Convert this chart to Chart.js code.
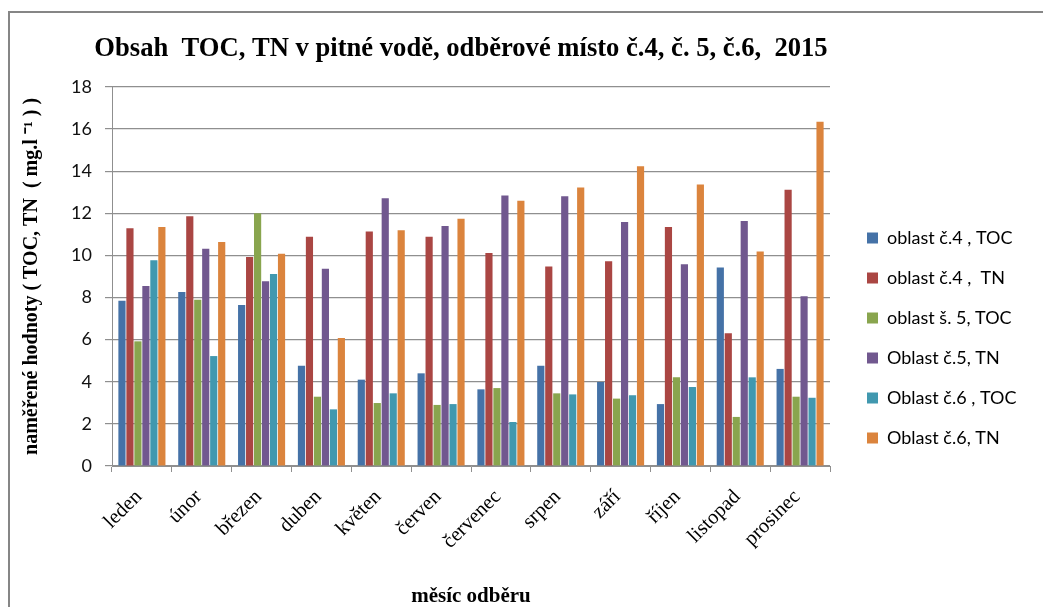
<!DOCTYPE html>
<html lang="cs">
<head>
<meta charset="utf-8">
<title>Obsah TOC, TN v pitné vodě 2015</title>
<script src="https://cdn.jsdelivr.net/npm/chart.js@4/dist/chart.umd.min.js"></script>
<style>
  html, body { margin: 0; padding: 0; background: #ffffff; }
  #wrap { position: relative; width: 1043px; height: 607px; }
</style>
</head>
<body>
<div id="wrap"><canvas id="chart" width="1043" height="607"></canvas></div>
<script>
// Měsíce odběru
const months = ['leden', 'únor', 'březen', 'duben', 'květen', 'červen',
                'červenec', 'srpen', 'září', 'říjen', 'listopad', 'prosinec'];

// Naměřené hodnoty (mg/l) pro jednotlivá odběrová místa
const toc4 = [7.85, 8.26, 7.64, 4.76, 4.10, 4.40, 3.64, 4.76, 3.99, 2.94, 9.42, 4.61];
const tn4  = [11.29, 11.86, 9.92, 10.89, 11.14, 10.89, 10.11, 9.47, 9.72, 11.35, 6.30, 13.12];
const toc5 = [5.92, 7.90, 12.0, 3.29, 2.99, 2.90, 3.70, 3.45, 3.20, 4.21, 2.33, 3.29];
const tn5  = [8.55, 10.32, 8.77, 9.37, 12.71, 11.40, 12.85, 12.81, 11.59, 9.58, 11.63, 8.06];
const toc6 = [9.77, 5.22, 9.12, 2.69, 3.45, 2.94, 2.09, 3.40, 3.36, 3.75, 4.21, 3.24];
const tn6  = [11.35, 10.64, 10.08, 6.08, 11.19, 11.74, 12.60, 13.22, 14.23, 13.37, 10.18, 16.35];

const seriesNames = ['oblast č.4 , TOC', 'oblast č.4 ,  TN', 'oblast š. 5, TOC',
                     'Oblast č.5, TN', 'Oblast č.6 , TOC', 'Oblast č.6, TN'];
const seriesValues = [toc4, tn4, toc5, tn5, toc6, tn6];
const seriesColors = ['#4572A7', '#AA4643', '#89A54E', '#71588F', '#4198AF', '#DB843D'];

// Osa Y
const yMin = 0, yMax = 18, yStep = 2;

const chartTitle = 'Obsah  TOC, TN v pitné vodě, odběrové místo č.4, č. 5, č.6,  2015';
const yTitle = 'naměřené hodnoty ( TOC, TN  ( mg.l ⁻¹ ) )';
const xTitle = 'měsíc odběru';

// Rozvržení plochy
const PLOT_LEFT = 112, PLOT_RIGHT = 830, PLOT_BOTTOM = 466;
const GRID = '#8f8f8f';
const SANS = 'Lato, "Open Sans", sans-serif';
const SERIF = '"Liberation Serif", "Times New Roman", serif';

const frame = {
  id: 'frame',
  beforeDraw(chart) {
    const c = chart.ctx;
    c.save();
    c.strokeStyle = '#868686';
    c.lineWidth = 2;
    c.beginPath();
    c.moveTo(9, chart.height);
    c.lineTo(9, 12);
    c.lineTo(chart.width, 12);
    c.stroke();
    c.restore();
  }
};

const placeBlocks = {
  id: 'placeBlocks',
  afterLayout(chart) {
    const t = chart.titleBlock;
    if (t) { t.left = 61; t.right = 861; t.width = 800; }
    const lg = chart.legend;
    if (lg) {
      lg.left = 845; lg.right = chart.width; lg.width = lg.right - lg.left;
      lg.top = 69; lg.bottom = chart.height; lg.height = lg.bottom - lg.top;
    }
  }
};

new Chart(document.getElementById('chart'), {
  type: 'bar',
  data: {
    labels: months,
    datasets: seriesNames.map((name, i) => ({
      label: name,
      data: seriesValues[i],
      backgroundColor: seriesColors[i],
      borderWidth: 0,
      categoryPercentage: 0.8,
      barPercentage: 0.9
    }))
  },
  options: {
    responsive: false,
    devicePixelRatio: 1,
    animation: false,
    layout: { padding: { left: 0, right: 0, top: 0, bottom: 0 } },
    plugins: {
      title: {
        display: true,
        text: chartTitle,
        color: '#000',
        font: { family: SERIF, size: 26.6, weight: 'bold', lineHeight: 1.2 },
        padding: { top: 33, bottom: 22 }
      },
      legend: {
        position: 'right',
        align: 'center',
        labels: {
          color: '#000',
          font: { family: SANS, size: 18 },
          boxWidth: 11,
          boxHeight: 11,
          padding: 22
        }
      },
      tooltip: { enabled: false }
    },
    scales: {
      x: {
        grid: { display: true, drawOnChartArea: false, drawTicks: true, tickLength: 6, color: GRID },
        border: { display: true, color: GRID, width: 1 },
        ticks: {
          color: '#000',
          font: { family: SERIF, size: 20.5 },
          minRotation: 45, maxRotation: 45,
          padding: 13,
          labelOffset: -3,
          autoSkip: false
        },
        title: {
          display: true,
          text: xTitle,
          color: '#000',
          font: { family: SERIF, size: 21, weight: 'bold', lineHeight: 1 },
          padding: { top: 0, bottom: 0 }
        },
        afterFit(s) { s.height = s.chart.height - PLOT_BOTTOM; }
      },
      y: {
        min: yMin, max: yMax,
        grid: { color: GRID, lineWidth: 1.2, tickLength: 7 },
        border: { display: true, color: GRID, width: 1 },
        ticks: {
          stepSize: yStep,
          color: '#111',
          font: { family: SANS, size: 18 },
          padding: 13
        },
        title: {
          display: true,
          text: yTitle,
          color: '#000',
          font: { family: SERIF, size: 20, weight: 'bold', lineHeight: 1.2 },
          padding: { top: 20, bottom: 0 }
        },
        afterFit(s) { s.width = PLOT_LEFT; }
      },
      gap: {
        position: 'right',
        display: true,
        grid: { display: false },
        border: { display: false },
        ticks: { display: false },
        afterFit(s) {
          const lw = s.chart.legend ? s.chart.legend.width : 0;
          s.width = Math.max(0, s.chart.width - PLOT_RIGHT - lw);
        }
      }
    }
  },
  plugins: [frame, placeBlocks]
});
</script>
</body>
</html>
